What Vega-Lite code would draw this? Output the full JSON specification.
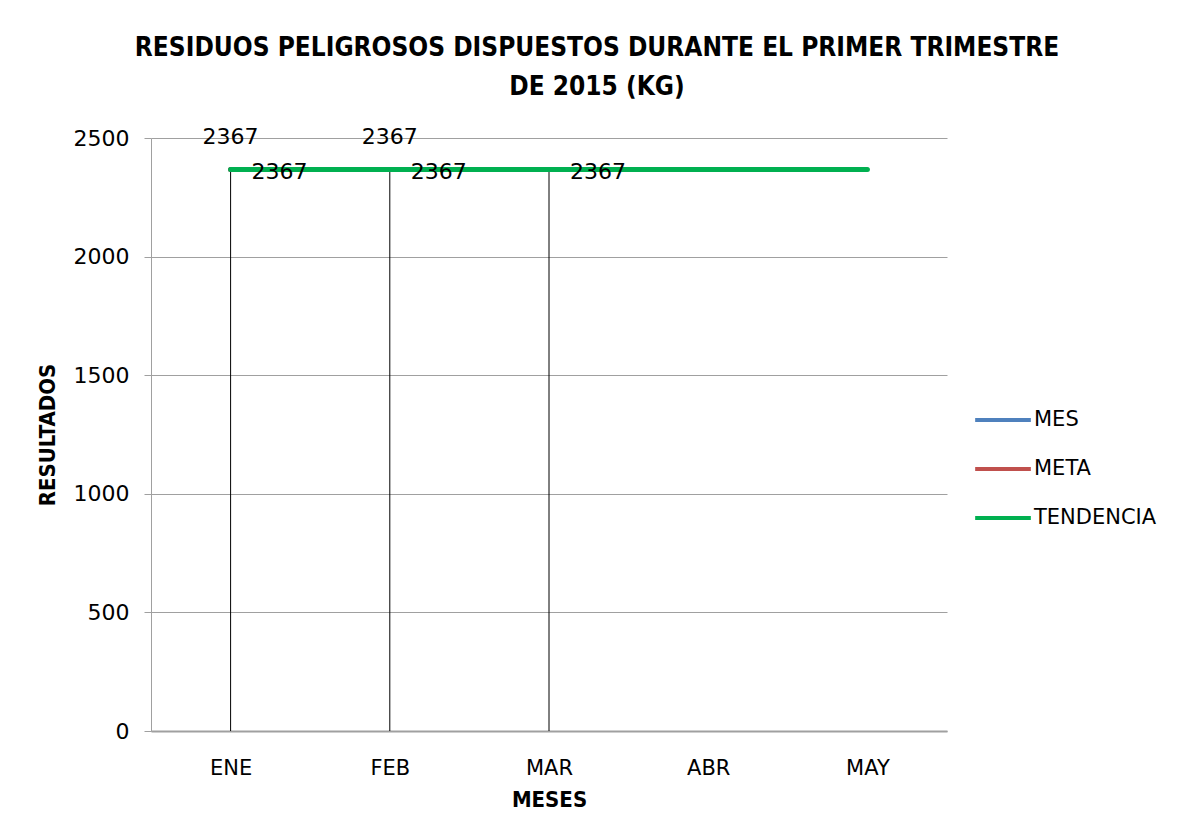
{
  "$schema": "https://vega.github.io/schema/vega-lite/v6.json",
  "width": 796,
  "height": 593,
  "autosize": {"type": "none"},
  "padding": {"left": 151, "top": 138, "right": 241, "bottom": 94},
  "background": "white",
  "title": {
    "text": ["RESIDUOS PELIGROSOS DISPUESTOS DURANTE EL PRIMER TRIMESTRE", "DE 2015 (KG)"],
    "font": "DejaVu Sans Condensed",
    "fontSize": 26,
    "fontWeight": "bold",
    "color": "#000000",
    "lineHeight": 39,
    "anchor": "middle",
    "frame": "group",
    "dx": 48,
    "offset": 26
  },
  "data": {
    "values": [
      {"mes": "ENE", "serie": "MES", "valor": 2367},
      {"mes": "FEB", "serie": "MES", "valor": 2367},
      {"mes": "MAR", "serie": "MES", "valor": 2367},
      {"mes": "ENE", "serie": "META", "valor": 2367},
      {"mes": "FEB", "serie": "META", "valor": 2367},
      {"mes": "ENE", "serie": "TENDENCIA", "valor": 2367},
      {"mes": "FEB", "serie": "TENDENCIA", "valor": 2367},
      {"mes": "MAR", "serie": "TENDENCIA", "valor": 2367},
      {"mes": "ABR", "serie": "TENDENCIA", "valor": 2367},
      {"mes": "MAY", "serie": "TENDENCIA", "valor": 2367}
    ]
  },
  "encoding": {
    "x": {
      "field": "mes",
      "type": "nominal",
      "sort": ["ENE", "FEB", "MAR", "ABR", "MAY"],
      "scale": {"type": "point", "padding": 0.5, "domain": ["ENE", "FEB", "MAR", "ABR", "MAY"]},
      "axis": {
        "title": "MESES",
        "titleFont": "DejaVu Sans Condensed",
        "titleFontSize": 22,
        "titleFontWeight": "bold",
        "titleColor": "#000000",
        "titlePadding": 11,
        "labelFont": "DejaVu Sans",
        "labelFontSize": 21,
        "labelColor": "#000000",
        "labelAngle": 0,
        "labelPadding": 26,
        "ticks": false,
        "domainColor": "#a0a0a0",
        "domainWidth": 2,
        "grid": false
      }
    },
    "y": {
      "field": "valor",
      "type": "quantitative",
      "scale": {"domain": [0, 2500], "nice": false},
      "axis": {
        "title": "RESULTADOS",
        "titleFont": "DejaVu Sans Condensed",
        "titleFontSize": 22,
        "titleFontWeight": "bold",
        "titleColor": "#000000",
        "titlePadding": 14,
        "values": [0, 500, 1000, 1500, 2000, 2500],
        "labelFont": "DejaVu Sans",
        "labelFontSize": 22,
        "labelColor": "#000000",
        "labelPadding": 15,
        "tickSize": 7,
        "tickColor": "#a0a0a0",
        "domainColor": "#a0a0a0",
        "grid": true,
        "gridColor": "#a0a0a0",
        "format": "d"
      }
    }
  },
  "layer": [
    {
      "transform": [{"filter": "datum.serie === 'MES'"}],
      "mark": {"type": "rule", "color": "#000000", "strokeWidth": 1},
      "encoding": {"y2": {"datum": 0}}
    },
    {
      "mark": {"type": "line", "strokeWidth": 5, "strokeCap": "round"},
      "encoding": {
        "color": {
          "field": "serie",
          "type": "nominal",
          "scale": {"domain": ["MES", "META", "TENDENCIA"], "range": ["#4F81BD", "#C0504D", "#00B050"]},
          "legend": {
            "title": null,
            "orient": "none",
            "legendX": 822,
            "legendY": 252,
            "symbolType": "stroke",
            "symbolSize": 3100,
            "symbolStrokeWidth": 4,
            "labelFont": "DejaVu Sans",
            "labelFontSize": 21,
            "labelColor": "#000000",
            "labelOffset": 1,
            "rowPadding": 9
          }
        }
      }
    },
    {
      "transform": [{"filter": "datum.serie === 'META'"}],
      "mark": {"type": "text", "font": "DejaVu Sans", "fontSize": 22, "color": "#000000", "align": "center", "baseline": "middle", "dy": -33},
      "encoding": {"text": {"field": "valor", "type": "quantitative", "format": "d"}}
    },
    {
      "transform": [{"filter": "datum.serie === 'MES'"}],
      "mark": {"type": "text", "font": "DejaVu Sans", "fontSize": 22, "color": "#000000", "align": "left", "baseline": "middle", "dx": 21, "dy": 2},
      "encoding": {"text": {"field": "valor", "type": "quantitative", "format": "d"}}
    }
  ],
  "config": {"view": {"stroke": null}}
}
